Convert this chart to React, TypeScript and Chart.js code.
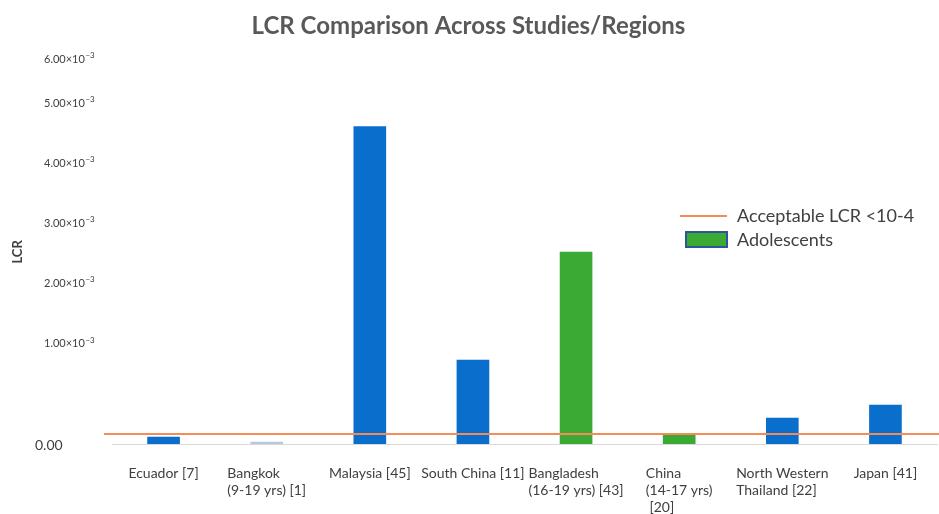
import React, { useEffect, useRef } from 'react';
import { Chart, registerables, LinearScale } from 'chart.js';

const TITLE = 'LCR Comparison Across Studies/Regions';
const Y_TITLE = 'LCR';
const CATEGORIES: string[][] = [
  ['Ecuador [7]'],
  ['Bangkok', '(9-19 yrs) [1]'],
  ['Malaysia [45]'],
  ['South China [11]'],
  ['Bangladesh', '(16-19 yrs) [43]'],
  ['China', '(14-17 yrs)', ' [20]'],
  ['North Western', 'Thailand [22]'],
  ['Japan [41]'],
];
const LCR_VALUES = [0.07e-3, 0.02e-3, 4.62e-3, 0.84e-3, 2.53e-3, 0.1e-3, 0.26e-3, 0.39e-3];
const ADOLESCENT = [false, false, false, false, true, true, false, false];
const FAINT = [false, true, false, false, false, false, false, false];
const THRESHOLD = 1e-4;
const Y_TICKS = [0, 1e-3, 2e-3, 3e-3, 4e-3, 5e-3, 6e-3];
const Y_TICK_MANTISSA = ['0.00', '1.00', '2.00', '3.00', '4.00', '5.00', '6.00'];
const Y_TICK_EXP = '−3';
// relative spacing between consecutive y ticks as drawn in the reference
const Y_SEGMENT_WEIGHTS = [100, 60, 60, 60, 60, 44];
const LEGEND_LINE_LABEL = 'Acceptable LCR <10-4';
const LEGEND_BOX_LABEL = 'Adolescents';

const BLUE = '#0a6ecd';
const GREEN = '#3aaa35';
const FAINT_BLUE = '#b9c8e2';
const ORANGE = '#f58b55';
const TEXT = '#404040';
const FONT = 'Lato, "Open Sans", sans-serif';

function decimalFor(value: number): number {
  const total = Y_SEGMENT_WEIGHTS.reduce((a, b) => a + b, 0);
  let acc = 0;
  const n = Y_SEGMENT_WEIGHTS.length;
  for (let i = 0; i < n; i++) {
    const lo = Y_TICKS[i];
    const hi = Y_TICKS[i + 1];
    if (value <= hi || i === n - 1) {
      return (acc + ((value - lo) / (hi - lo)) * Y_SEGMENT_WEIGHTS[i]) / total;
    }
    acc += Y_SEGMENT_WEIGHTS[i];
  }
  return 1;
}

function valueForDecimal(d: number): number {
  const total = Y_SEGMENT_WEIGHTS.reduce((a, b) => a + b, 0);
  let target = d * total;
  const n = Y_SEGMENT_WEIGHTS.length;
  for (let i = 0; i < n; i++) {
    const w = Y_SEGMENT_WEIGHTS[i];
    if (target <= w || i === n - 1) {
      return Y_TICKS[i] + (target / w) * (Y_TICKS[i + 1] - Y_TICKS[i]);
    }
    target -= w;
  }
  return Y_TICKS[Y_TICKS.length - 1];
}

class SegmentedScale extends LinearScale {
  static id = 'segmented';
  static defaults = LinearScale.defaults;
  getPixelForValue(value: number) {
    if (value === null || value === undefined || isNaN(value)) return NaN;
    return this.getPixelForDecimal(decimalFor(value));
  }
  getValueForPixel(pixel: number) {
    return valueForDecimal(this.getDecimalForPixel(pixel));
  }
}

Chart.register(...registerables, SegmentedScale as any);

const decorPlugin = {
  id: 'decor',
  afterDatasetsDraw(chart: any) {
    const { ctx, chartArea, scales } = chart;
    const y = scales.y;
    const x = scales.x;
    ctx.save();
    // threshold line
    const ty = y.getPixelForValue(THRESHOLD);
    ctx.strokeStyle = ORANGE;
    ctx.lineWidth = 2;
    ctx.beginPath();
    ctx.moveTo(chartArea.left - 8, ty);
    ctx.lineTo(chart.width, ty);
    ctx.stroke();

    // y tick labels
    ctx.fillStyle = TEXT;
    ctx.textBaseline = 'middle';
    ctx.textAlign = 'left';
    Y_TICKS.forEach((v, i) => {
      const py = y.getPixelForValue(v);
      if (v === 0) {
        ctx.font = `14px ${FONT}`;
        ctx.fillText(Y_TICK_MANTISSA[i], 35, py + 1);
      } else {
        ctx.font = `11px ${FONT}`;
        const base = `${Y_TICK_MANTISSA[i]}×10`;
        ctx.fillText(base, 44, py);
        const w = ctx.measureText(base).width;
        ctx.font = `8px ${FONT}`;
        ctx.fillText(Y_TICK_EXP, 44 + w + 0.5, py - 4);
      }
    });

    // x labels: left-aligned blocks centred on each category
    ctx.font = `14px ${FONT}`;
    ctx.textAlign = 'left';
    ctx.textBaseline = 'middle';
    CATEGORIES.forEach((lines, i) => {
      const cx = x.getPixelForTick(i);
      const bw = Math.max(...lines.map((l) => ctx.measureText(l).width));
      lines.forEach((l, j) => {
        ctx.fillText(l, cx - bw / 2, chartArea.bottom + 29 + j * 17.3);
      });
    });

    // legend
    const lx = 680;
    ctx.strokeStyle = ORANGE;
    ctx.lineWidth = 2;
    ctx.beginPath();
    ctx.moveTo(lx, 216);
    ctx.lineTo(lx + 47, 216);
    ctx.stroke();
    ctx.fillStyle = GREEN;
    ctx.fillRect(lx + 6, 232, 41, 15);
    ctx.strokeStyle = '#2e5596';
    ctx.lineWidth = 2;
    ctx.strokeRect(lx + 6, 232, 41, 15);
    ctx.fillStyle = TEXT;
    ctx.font = `18px ${FONT}`;
    ctx.fillText(LEGEND_LINE_LABEL, lx + 57, 216);
    ctx.fillText(LEGEND_BOX_LABEL, lx + 57, 240);
    ctx.restore();
  },
};

export default function App() {
  const ref = useRef<HTMLCanvasElement | null>(null);
  useEffect(() => {
    if (!ref.current) return;
    const colors = LCR_VALUES.map((_, i) => (FAINT[i] ? FAINT_BLUE : ADOLESCENT[i] ? GREEN : BLUE));
    const chart = new Chart(ref.current, {
      type: 'bar',
      data: {
        labels: CATEGORIES as any,
        datasets: [
          {
            label: 'LCR',
            data: LCR_VALUES,
            backgroundColor: colors,
            borderWidth: 0,
            barThickness: 32,
          },
        ],
      },
      plugins: [decorPlugin],
      options: {
        animation: false,
        responsive: true,
        maintainAspectRatio: false,
        layout: { padding: { left: 0, right: 2, top: 0, bottom: 70 } },
        plugins: {
          legend: { display: false },
          tooltip: { enabled: false },
          title: {
            display: true,
            text: TITLE,
            color: '#595959',
            font: { family: FONT, size: 24, weight: 'bold' },
            padding: { top: 12, bottom: 19 },
          },
        },
        scales: {
          x: {
            grid: { display: false },
            ticks: { display: false },
            border: { display: true, color: '#d9d9d9', width: 1 },
            afterFit: (s: any) => {
              s.height = 0;
            },
          },
          y: {
            type: 'segmented' as any,
            min: 0,
            max: 6e-3,
            ticks: { display: false, stepSize: 1e-3 },
            grid: { display: false },
            border: { display: false },
            title: {
              display: true,
              text: Y_TITLE,
              color: TEXT,
              font: { family: FONT, size: 13, weight: 'bold' },
              padding: { top: 10, bottom: 0 },
            },
            afterFit: (s: any) => {
              s.width = 112;
            },
          },
        },
      },
    });
    return () => chart.destroy();
  }, []);
  return (
    <div style={{ position: 'fixed', left: 0, top: 0, width: 939, height: 514, background: '#fff' }}>
      <canvas ref={ref} />
    </div>
  );
}
